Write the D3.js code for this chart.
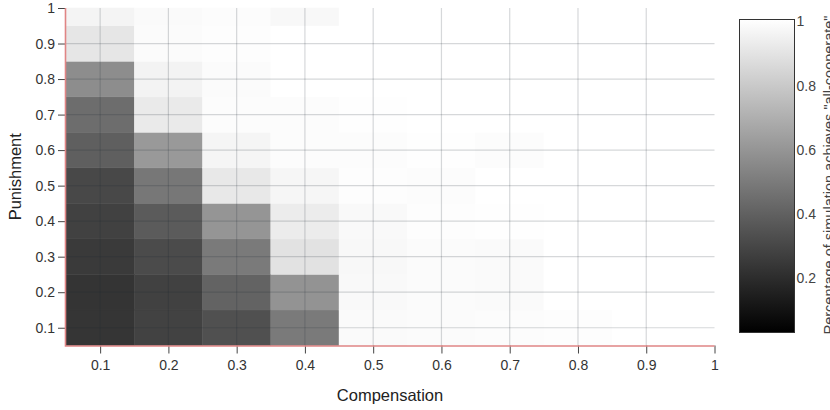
<!DOCTYPE html>
<html>
<head>
<meta charset="utf-8">
<script src="https://cdn.jsdelivr.net/npm/d3@7"></script>
<style>
body { margin: 0; background: #fff; font-family: "Liberation Sans", Arial, sans-serif; }
.axis text { font-size: 14px; fill: #333; font-family: "Liberation Sans", Arial, sans-serif; }
.axis line { stroke: #444; }
.grid line { stroke: #1c2733; stroke-opacity: 0.18; stroke-width: 1.2; }
</style>
</head>
<body>
<script>
// Grid positions (both axes use the same steps)
var compensation = [0.1, 0.2, 0.3, 0.4, 0.5, 0.6, 0.7, 0.8, 0.9, 1.0];
var punishment   = [0.1, 0.2, 0.3, 0.4, 0.5, 0.6, 0.7, 0.8, 0.9, 1.0];

// Share of runs reaching "all-cooperate", one array per compensation value,
// listed from punishment 0.1 up to 1.0
var comp01 = [0.232, 0.228, 0.254, 0.277, 0.307, 0.391, 0.444, 0.569, 0.905, 0.958];
var comp02 = [0.281, 0.277, 0.315, 0.376, 0.485, 0.614, 0.921, 0.955, 0.985, 0.981];
var comp03 = [0.334, 0.406, 0.497, 0.599, 0.913, 0.962, 0.989, 0.985, 0.992, 0.989];
var comp04 = [0.497, 0.591, 0.890, 0.928, 0.966, 0.989, 0.989, 1.000, 1.000, 0.973];
var comp05 = [0.981, 0.977, 0.973, 0.977, 0.992, 0.989, 0.996, 1.000, 1.000, 1.000];
var comp06 = [0.985, 0.985, 0.985, 0.992, 0.989, 0.996, 1.000, 1.000, 1.000, 1.000];
var comp07 = [0.989, 0.981, 0.981, 0.996, 1.000, 0.989, 1.000, 1.000, 1.000, 1.000];
var comp08 = [0.992, 1.000, 1.000, 1.000, 1.000, 1.000, 1.000, 1.000, 1.000, 1.000];
var comp09 = [1.000, 1.000, 1.000, 1.000, 1.000, 1.000, 1.000, 1.000, 1.000, 1.000];
var comp10 = [1.000, 1.000, 1.000, 1.000, 1.000, 1.000, 1.000, 1.000, 1.000, 1.000];
var columns = [comp01, comp02, comp03, comp04, comp05, comp06, comp07, comp08, comp09, comp10];

var tickValues = [0.1, 0.2, 0.3, 0.4, 0.5, 0.6, 0.7, 0.8, 0.9, 1];
var gridValues = [0.1, 0.2, 0.3, 0.4, 0.5, 0.6, 0.7, 0.8, 0.9];
var legendTicks = [0.2, 0.4, 0.6, 0.8, 1];

var width = 830, height = 410;
var plot = {left: 66, right: 714.5, top: 8, bottom: 345.5};
var half = 0.05;

var svg = d3.select("body").append("svg")
    .attr("width", width)
    .attr("height", height);

var xScale = d3.scaleLinear().domain([0.05, 1]).range([plot.left, plot.right]);
var yScale = d3.scaleLinear().domain([0.05, 1]).range([plot.bottom, plot.top]);
var color = d3.scaleLinear().domain([0.032, 1]).range(["#000", "#fff"]);

// flatten into cells
var cells = [];
columns.forEach(function(col, i) {
    col.forEach(function(v, j) {
        cells.push({c: compensation[i], p: punishment[j], v: v});
    });
});

// Heatmap cells (clipped to the axis domain)
svg.append("g")
    .attr("class", "cells")
    .selectAll("rect")
    .data(cells)
    .enter().append("rect")
    .attr("x", function(d) { return xScale(Math.max(0.05, d.c - half)); })
    .attr("width", function(d) { return xScale(Math.min(1, d.c + half)) - xScale(Math.max(0.05, d.c - half)); })
    .attr("y", function(d) { return yScale(Math.min(1, d.p + half)); })
    .attr("height", function(d) { return yScale(Math.max(0.05, d.p - half)) - yScale(Math.min(1, d.p + half)); })
    .attr("fill", function(d) { return color(d.v); })
    .attr("stroke", function(d) { return color(d.v); })
    .attr("stroke-width", 0.5);

// Grid lines on top of the cells
var grid = svg.append("g").attr("class", "grid");
grid.selectAll(".gx").data(gridValues).enter().append("line")
    .attr("x1", function(d) { return xScale(d); })
    .attr("x2", function(d) { return xScale(d); })
    .attr("y1", plot.top)
    .attr("y2", plot.bottom);
grid.selectAll(".gy").data(gridValues).enter().append("line")
    .attr("x1", plot.left)
    .attr("x2", plot.right)
    .attr("y1", function(d) { return yScale(d); })
    .attr("y2", function(d) { return yScale(d); });

var fmt = function(d) { return d === 1 ? "1" : d.toFixed(1); };

// Axes
var xAxis = svg.append("g")
    .attr("class", "axis x")
    .attr("transform", "translate(0," + plot.bottom + ")")
    .call(d3.axisBottom(xScale).tickValues(tickValues).tickFormat(fmt).tickSize(8).tickPadding(7));
xAxis.select(".domain").remove();

var yAxis = svg.append("g")
    .attr("class", "axis y")
    .attr("transform", "translate(" + plot.left + ",0)")
    .call(d3.axisLeft(yScale).tickValues(tickValues).tickFormat(fmt).tickSize(8).tickPadding(3));
yAxis.select(".domain").remove();

// Pink axis lines
svg.append("path")
    .attr("d", "M" + (plot.left - 0.5) + "," + plot.top + "V" + (plot.bottom + 0.5) + "H" + plot.right)
    .attr("fill", "none")
    .attr("stroke", "#e08585")
    .attr("stroke-width", 1.6);

// Axis titles
svg.append("text")
    .attr("x", 390)
    .attr("y", 401)
    .attr("text-anchor", "middle")
    .style("font-size", "16.5px")
    .style("fill", "#222")
    .text("Compensation");

svg.append("text")
    .attr("transform", "translate(21," + ((plot.top + plot.bottom) / 2) + ") rotate(-90)")
    .attr("text-anchor", "middle")
    .style("font-size", "16.5px")
    .style("fill", "#222")
    .text("Punishment");

// Colour bar
var bar = {x: 739.5, w: 55, top: 19.5, bottom: 332.5};
var legendScale = d3.scaleLinear().domain([0.032, 1]).range([bar.bottom, 21.5]);

var grad = svg.append("defs").append("linearGradient")
    .attr("id", "cbar")
    .attr("x1", 0).attr("y1", 1).attr("x2", 0).attr("y2", 0);
grad.append("stop").attr("offset", "0%").attr("stop-color", color(0.032));
grad.append("stop").attr("offset", "100%").attr("stop-color", color(1));

svg.append("rect")
    .attr("x", bar.x)
    .attr("y", bar.top)
    .attr("width", bar.w)
    .attr("height", bar.bottom - bar.top)
    .attr("fill", "url(#cbar)")
    .attr("stroke", "#333")
    .attr("stroke-width", 1);

svg.append("g")
    .attr("class", "axis legend")
    .selectAll("text")
    .data(legendTicks)
    .enter().append("text")
    .attr("x", bar.x + bar.w + 2)
    .attr("y", function(d) { return legendScale(d); })
    .attr("dy", "0.35em")
    .style("fill", "#444")
    .text(fmt);

svg.append("text")
    .attr("transform", "translate(834,175) rotate(-90)")
    .attr("text-anchor", "middle")
    .style("font-size", "14.5px")
    .style("fill", "#444")
    .text("Percentage of simulation achieves \"all-cooperate\"");
</script>
</body>
</html>
